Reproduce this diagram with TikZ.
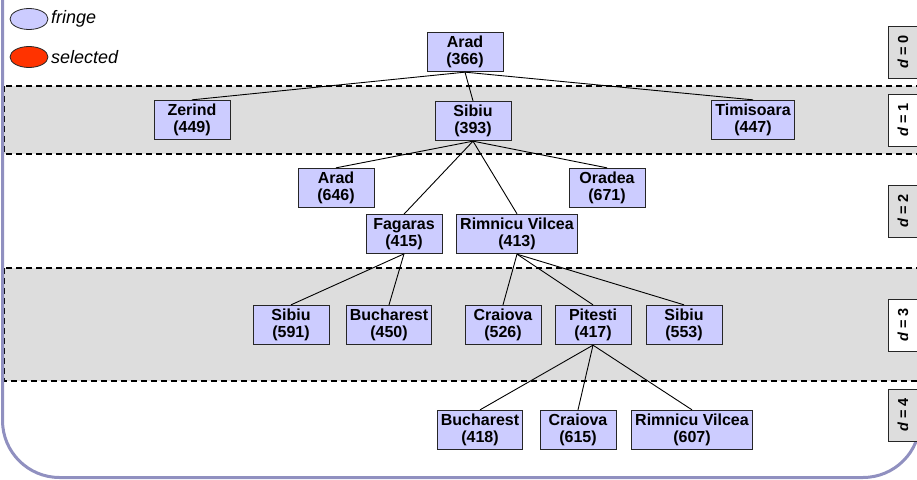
\documentclass[tikz,border=0pt]{standalone}
\usepackage{fontspec}
\setmainfont{Liberation Sans}
\usetikzlibrary{shapes.geometric}
\definecolor{nodefill}{HTML}{CCCCFF}
\definecolor{bandgrey}{HTML}{DDDDDD}
\definecolor{framecol}{HTML}{9090C0}
\definecolor{selred}{HTML}{FF3300}
\begin{document}
\begin{tikzpicture}[x=1pt,y=-1pt,
  state/.style={draw=black!85, line width=0.9pt, fill=nodefill,
    minimum width=76pt, minimum height=38pt, inner sep=3.5pt, align=center,
    font=\fontsize{16}{17.5}\selectfont\bfseries},
  band/.style={fill=bandgrey, draw=black, dash pattern=on 6pt off 4pt, line width=1.2pt},
  depthbox/.style={draw=black!85, line width=0.9pt, rotate=90,
    minimum width=52pt, minimum height=30pt, inner sep=2pt,
    font=\fontsize{14.5}{16}\selectfont\bfseries},
  legendmark/.style={ellipse, draw=black!85, line width=0.8pt,
    minimum width=38pt, minimum height=21pt, inner sep=0pt},
  legendtext/.style={anchor=west, inner sep=0pt,
    font=\fontsize{18}{20}\selectfont\itshape},
  edge/.style={line width=0.9pt}]

\useasboundingbox (0,0) rectangle (917,479);
\fill[white] (0,0) rectangle (917,479);

% depth bands
\path[band] (4,86) rectangle (930,154);
\path[band] (4,268) rectangle (930,381);

% outer frame
\draw[framecol, line width=3pt, rounded corners=57pt]
  (2.5,-30) -- (2.5,477.5) -- (920,477.5) -- (920,-30);

% legend
\node[legendmark, fill=nodefill] (lfringe) at (29,19) {};
\node[legendtext] (tfringe) at (51,19) {fringe};
\node[legendmark, fill=selred] (lsel) at (29,57) {};
\node[legendtext] (tsel) at (51,57) {selected};

% depth labels
\node[depthbox, fill=bandgrey] (d0) at (903,52) {{\itshape d} = 0};
\node[depthbox, fill=white]    (d1) at (903,120) {{\itshape d} = 1};
\node[depthbox, fill=bandgrey] (d2) at (903,211) {{\itshape d} = 2};
\node[depthbox, fill=white]    (d3) at (903,325) {{\itshape d} = 3};
\node[depthbox, fill=bandgrey] (d4) at (903,415) {{\itshape d} = 4};

% search tree
\node[state] (arad)    at (465,52)  {Arad\\(366)};
\node[state] (zerind)  at (192,120) {Zerind\\(449)};
\node[state] (sibiu)   at (473,121) {Sibiu\\(393)};
\node[state] (timi)    at (753,120) {Timisoara\\(447)};
\node[state] (arad2)   at (336,188) {Arad\\(646)};
\node[state] (oradea)  at (607,188) {Oradea\\(671)};
\node[state] (fagaras) at (404,234) {Fagaras\\(415)};
\node[state] (rv)      at (517,234) {Rimnicu Vilcea\\(413)};
\node[state] (sibiu2)  at (291,325) {Sibiu\\(591)};
\node[state] (buch)    at (389,325) {Bucharest\\(450)};
\node[state] (craiova) at (503,325) {Craiova\\(526)};
\node[state] (pitesti) at (593,325) {Pitesti\\(417)};
\node[state] (sibiu3)  at (684,325) {Sibiu\\(553)};
\node[state] (buch2)   at (480,430) {Bucharest\\(418)};
\node[state] (craiova2) at (578,430) {Craiova\\(615)};
\node[state] (rv2)     at (692,430) {Rimnicu Vilcea\\(607)};

\foreach \p/\c in {arad/zerind, arad/sibiu, arad/timi,
  sibiu/arad2, sibiu/fagaras, sibiu/rv, sibiu/oradea,
  fagaras/sibiu2, fagaras/buch,
  rv/craiova, rv/pitesti, rv/sibiu3,
  pitesti/buch2, pitesti/craiova2, pitesti/rv2}
  \draw[edge] (\p.south) -- (\c.north);
\end{tikzpicture}
\end{document}
